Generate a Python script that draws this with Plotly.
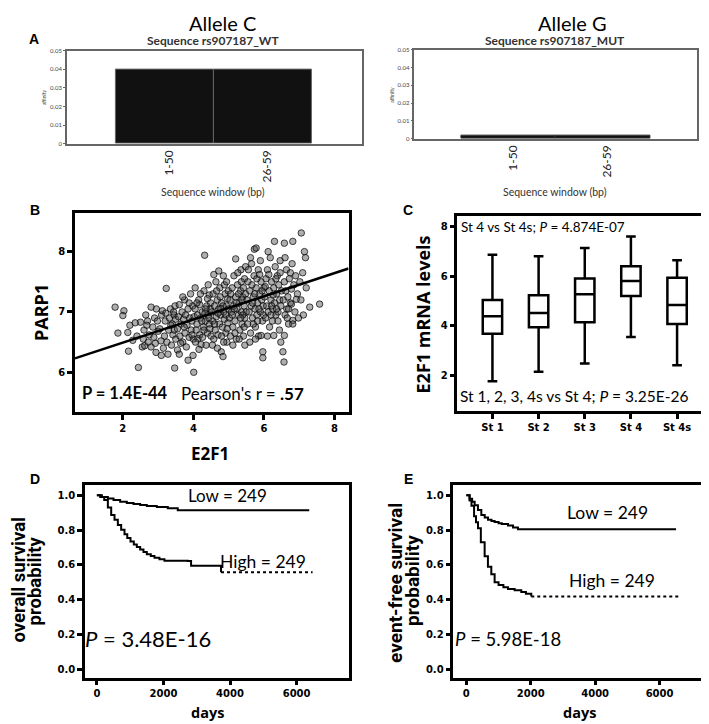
import plotly.graph_objects as go

W, H = 709, 724

# ---------------- DATA ----------------
# Panel A
window_labels = ["1-50", "26-59"]
affinity_wt = [0.04, 0.04]
affinity_mut = [0.0015, 0.0015]
affinity_ticks = [0, 0.01, 0.02, 0.03, 0.04, 0.05]

# Panel B (E2F1 vs PARP1)
e2f1_pts = [
 1.78,2.03,2.0,1.86,2.14,2.16,2.44,2.28,2.5,2.2,2.35,2.4,
 2.55,2.62,2.8,2.94,3.09,2.6,2.7,2.75,2.85,2.9,2.65,2.95,2.8,2.58,2.72,2.88,3.0,2.98,2.68,2.92,
 3.05,3.1,3.12,3.18,3.2,3.23,3.25,3.3,3.32,3.35,3.38,3.4,3.42,3.45,3.47,3.48,3.5,3.15,3.28,3.36,3.44,3.22,3.08,3.5,3.46,
 3.55,3.6,3.55,3.58,3.6,3.62,3.65,3.68,3.7,3.72,3.75,3.76,3.78,3.8,3.82,3.85,3.88,3.9,3.92,3.94,3.96,3.98,3.99,4.0,3.7,3.85,3.64,3.74,3.88,3.96,
 4.01,4.02,4.05,4.08,4.1,4.13,4.15,4.18,4.2,4.22,4.25,4.28,4.3,4.32,4.34,4.36,4.38,4.4,4.42,4.45,4.46,4.48,4.5,4.05,4.12,4.18,4.24,4.3,4.35,4.4,4.44,4.47,4.06,4.16,4.26,4.33,4.42,4.49,4.2,4.1,
 4.52,4.55,4.56,4.58,4.6,4.62,4.64,4.65,4.68,4.7,4.72,4.74,4.75,4.77,4.79,4.8,4.82,4.84,4.85,4.86,4.88,4.9,4.92,4.94,4.95,4.97,4.98,5.0,4.54,4.6,4.66,4.7,4.76,4.8,4.84,4.88,4.92,4.96,4.58,4.68,4.78,4.86,4.94,4.72,4.99,
 5.02,5.04,5.05,5.08,5.1,5.12,5.14,5.15,5.18,5.2,5.2,5.22,5.24,5.25,5.28,5.3,5.32,5.34,5.35,5.36,5.38,5.4,5.42,5.44,5.45,5.46,5.48,5.5,5.06,5.12,5.16,5.22,5.28,5.3,5.36,5.4,5.44,5.48,5.18,5.26,5.34,5.42,5.1,5.38,5.46,
 5.52,5.54,5.55,5.58,5.6,5.62,5.64,5.65,5.68,5.7,5.72,5.73,5.75,5.76,5.78,5.78,5.8,5.82,5.84,5.85,5.88,5.9,5.92,5.92,5.94,5.96,5.97,5.97,5.98,6.0,5.56,5.6,5.66,5.7,5.74,5.8,5.86,5.9,5.95,5.62,5.68,5.76,5.82,5.88,5.99,
 6.02,6.05,6.06,6.08,6.1,6.12,6.15,6.16,6.18,6.2,6.22,6.24,6.25,6.28,6.28,6.3,6.3,6.32,6.34,6.36,6.38,6.4,6.42,6.44,6.45,6.46,6.48,6.5,6.04,6.1,6.14,6.2,6.26,6.34,6.4,6.46,6.12,6.22,6.36,6.48,
 6.54,6.57,6.58,6.58,6.55,6.58,6.6,6.62,6.64,6.65,6.68,6.7,6.72,6.75,6.78,6.78,6.8,6.82,6.82,6.82,6.85,6.88,6.9,6.92,6.95,6.98,6.6,6.7,6.75,6.66,
 7.06,7.15,7.18,7.30,7.58,7.02,7.05,7.1,7.12,7.2]
parp1_pts = [
 7.08,7.02,6.94,6.65,6.66,6.35,6.08,6.53,6.83,6.78,6.82,6.6,
 6.42,6.44,6.42,6.33,6.28,6.7,6.85,6.62,6.75,6.9,6.95,7.05,7.08,6.55,6.5,6.58,6.68,6.85,6.78,6.48,
 6.72,6.95,7.02,6.6,6.85,7.39,6.5,6.7,6.9,7.05,6.45,6.8,6.62,6.95,6.07,7.1,6.55,6.4,6.3,6.78,7.0,6.98,6.52,6.88,6.7,
 6.37,6.3,6.72,6.92,7.12,6.6,6.8,7.0,6.5,6.88,7.2,6.65,6.95,6.42,6.78,7.05,6.58,6.9,7.3,6.7,6.85,7.1,6.28,6.55,7.25,6.2,6.48,6.75,7.15,6.62,
 6.0,6.92,7.05,6.7,6.8,6.56,7.2,6.62,6.9,6.46,7.0,6.75,7.35,7.94,6.85,6.45,7.1,6.65,6.95,7.28,6.8,7.05,6.6,7.4,6.95,7.12,6.85,6.7,7.05,7.22,6.9,6.72,6.5,6.38,6.58,6.98,7.45,7.15,7.3,7.15,
 7.0,6.85,7.3,6.55,7.1,6.7,7.5,6.92,7.2,6.62,7.05,6.8,7.4,6.95,6.34,7.15,6.75,6.26,7.6,7.0,6.88,7.3,6.65,7.1,6.5,7.22,6.82,7.05,6.45,6.8,7.35,6.98,7.25,6.6,7.1,7.45,6.95,6.72,7.62,6.4,7.05,6.5,7.5,7.68,7.35,
 6.9,7.2,6.6,7.0,7.4,6.75,7.1,7.6,6.85,7.88,7.25,6.55,7.05,7.45,6.95,7.15,6.7,7.35,7.7,7.0,6.8,7.25,6.6,7.1,7.55,6.9,7.3,7.0,7.3,6.45,7.05,7.15,7.3,6.55,7.5,6.95,6.75,7.75,6.65,7.65,6.9,7.4,6.95,7.2,6.45,
 7.2,6.8,7.5,7.0,7.35,6.65,7.1,7.8,6.9,7.25,7.6,8.04,7.05,6.75,8.06,7.4,6.95,7.15,7.7,6.6,7.3,7.0,6.61,7.5,7.2,6.85,6.34,6.24,7.1,7.4,7.7,6.5,7.45,6.8,7.3,7.55,7.05,7.85,7.35,7.9,7.15,6.55,6.85,7.62,6.95,
 7.25,6.9,7.55,7.1,7.7,7.0,7.35,6.75,7.9,7.2,7.5,6.85,7.05,6.61,7.4,8.17,7.15,7.75,6.95,7.3,7.6,7.0,7.45,6.7,7.2,7.85,7.1,7.35,7.42,6.6,7.62,6.95,7.28,7.55,6.85,7.65,8.0,7.1,7.05,6.5,
 6.34,6.17,6.61,8.14,7.2,7.5,6.95,7.35,7.7,7.05,7.25,6.8,7.55,7.15,7.38,7.13,7.8,8.17,6.86,6.8,7.45,7.0,7.6,7.21,7.3,6.9,7.9,7.05,7.65,6.9,
 8.31,8.0,7.9,7.08,7.13,7.5,7.2,7.65,6.95,7.4]
reg_slope = 0.192
reg_intercept = 6.107

# Panel C (E2F1 by stage), box statistics
stages = ["St 1", "St 2", "St 3", "St 4", "St 4s"]
st_low = [1.77, 2.15, 2.48, 3.55, 2.41]
st_q1 = [3.68, 3.95, 4.15, 5.21, 4.08]
st_med = [4.39, 4.52, 5.28, 5.81, 4.85]
st_q3 = [5.05, 5.24, 5.92, 6.41, 5.95]
st_high = [6.88, 6.81, 7.15, 7.61, 6.65]

# Panel D (overall survival)
os_low_days = [0, 150, 330, 500, 700, 900, 1100, 1300, 1500, 1800, 2130, 2430, 6380]
os_low_surv = [1.0, 0.99, 0.981, 0.972, 0.963, 0.955, 0.95, 0.944, 0.938, 0.932, 0.925, 0.914, 0.914]
os_high_days = [0, 100, 220, 330, 430, 530, 630, 730, 830, 913, 1010, 1110, 1200, 1300, 1400, 1500, 1620, 1730, 1880, 2030, 2730, 2830, 3730, 6480]
os_high_surv = [1.0, 0.99, 0.972, 0.93, 0.887, 0.859, 0.83, 0.802, 0.776, 0.755, 0.735, 0.717, 0.703, 0.689, 0.674, 0.661, 0.651, 0.642, 0.633, 0.625, 0.623, 0.595, 0.558, 0.558]
os_high_dot_from = 3730

# Panel E (event-free survival)
efs_low_days = [0, 100, 180, 258, 360, 465, 570, 672, 780, 878, 1000, 1100, 1292, 1450, 1602, 6512]
efs_low_surv = [1.0, 0.98, 0.962, 0.943, 0.915, 0.887, 0.872, 0.859, 0.852, 0.846, 0.84, 0.835, 0.827, 0.815, 0.805, 0.805]
efs_high_days = [0, 100, 160, 240, 300, 362, 450, 568, 670, 775, 878, 1000, 1150, 1292, 1500, 1706, 1850, 2016, 6667]
efs_high_surv = [1.0, 0.97, 0.94, 0.88, 0.845, 0.81, 0.73, 0.65, 0.59, 0.547, 0.501, 0.485, 0.472, 0.463, 0.455, 0.445, 0.435, 0.42, 0.42]
efs_high_dot_from = 2016

surv_ticks = [0.0, 0.2, 0.4, 0.6, 0.8, 1.0]
day_ticks = [0, 2000, 4000, 6000]

# ---------------- HELPERS ----------------
def fx(px):
    return px / W

def fy(py):
    return 1 - py / H

TXT = "Lato"
TICKF = dict(family="DejaVu Sans", size=10, color="black", weight="bold")

fig = go.Figure()

# Panel A bars
fig.add_trace(go.Bar(x=[0, 1], y=affinity_wt, width=1, marker=dict(color="#111", line=dict(color="#666", width=1)),
                     xaxis="x", yaxis="y", showlegend=False))
fig.add_trace(go.Bar(x=[0, 1], y=affinity_mut, width=1, marker=dict(color="#111", line=dict(color="#333", width=1)),
                     xaxis="x2", yaxis="y2", showlegend=False))

# Panel B scatter + regression
fig.add_trace(go.Scatter(x=e2f1_pts, y=parp1_pts, mode="markers",
                         marker=dict(size=6.5, color="rgba(75,75,75,0.45)", line=dict(color="rgba(0,0,0,0.7)", width=1)),
                         xaxis="x3", yaxis="y3", showlegend=False))
bx_rng = [0.64, 8.4]
fig.add_trace(go.Scatter(x=bx_rng, y=[reg_intercept + reg_slope * v for v in bx_rng], mode="lines",
                         line=dict(color="black", width=2.5), xaxis="x3", yaxis="y3", showlegend=False))

# Panel C boxes
fig.add_trace(go.Box(x=stages, q1=st_q1, median=st_med, q3=st_q3, lowerfence=st_low, upperfence=st_high,
                     width=0.42, whiskerwidth=0.5, fillcolor="white", line=dict(color="black", width=2.5),
                     xaxis="x4", yaxis="y4", showlegend=False, boxpoints=False))

# Panel D / E KM curves
def km_pair(days, surv, dot_from, xa, ya):
    k = days.index(dot_from)
    fig.add_trace(go.Scatter(x=days[:k + 1], y=surv[:k + 1], mode="lines",
                             line=dict(color="black", width=2, shape="hv"), xaxis=xa, yaxis=ya, showlegend=False))
    fig.add_trace(go.Scatter(x=days[k:], y=surv[k:], mode="lines",
                             line=dict(color="black", width=2, shape="hv", dash="dot"), xaxis=xa, yaxis=ya, showlegend=False))

fig.add_trace(go.Scatter(x=os_low_days, y=os_low_surv, mode="lines", line=dict(color="black", width=2, shape="hv"),
                         xaxis="x5", yaxis="y5", showlegend=False))
km_pair(os_high_days, os_high_surv, os_high_dot_from, "x5", "y5")
fig.add_trace(go.Scatter(x=efs_low_days, y=efs_low_surv, mode="lines", line=dict(color="black", width=2, shape="hv"),
                         xaxis="x6", yaxis="y6", showlegend=False))
km_pair(efs_high_days, efs_high_surv, efs_high_dot_from, "x6", "y6")

# ---------------- AXES ----------------
def box_axis(dom, anchor, rng, **kw):
    d = dict(domain=dom, anchor=anchor, range=rng, showline=True, mirror=True, linecolor="black", linewidth=2.5,
             showgrid=False, zeroline=False, ticks="outside", ticklen=5, tickwidth=2.5, tickcolor="black",
             tickfont=TICKF)
    d.update(kw)
    return d

a_axis = dict(showline=True, mirror=True, linecolor="#666", linewidth=1.5, showgrid=False, zeroline=False)
a_ticktext = ["0", "0.01", "0.02", "0.03", "0.04", "0.05"]

layout = dict(
    width=W, height=H, margin=dict(l=0, r=0, t=0, b=0), plot_bgcolor="white", paper_bgcolor="white",
    bargap=0,
    xaxis=dict(a_axis, domain=[fx(59), fx(354)], anchor="y", range=[-1, 2], tickvals=[0, 1], ticktext=window_labels,
               tickangle=-90, ticks="", tickfont=dict(family=TXT, size=12, color="#222"), ticklabelshift=4),
    yaxis=dict(a_axis, domain=[fy(133), fy(39)], anchor="x", range=[0, 0.05], tickvals=affinity_ticks,
               ticktext=a_ticktext, ticks="outside", ticklen=2, tickcolor="#666",
               tickfont=dict(family=TXT, size=6, color="#444")),
    xaxis2=dict(a_axis, domain=[fx(407), fx(690)], anchor="y2", range=[-1, 2], tickvals=[0, 1], ticktext=window_labels,
                tickangle=-90, ticks="", tickfont=dict(family=TXT, size=12, color="#222"), ticklabelshift=4),
    yaxis2=dict(a_axis, domain=[fy(128), fy(38)], anchor="x2", range=[0, 0.05], tickvals=affinity_ticks,
                ticktext=a_ticktext, ticks="outside", ticklen=2, tickcolor="#666",
                tickfont=dict(family=TXT, size=6, color="#444")),
    xaxis3=box_axis([fx(67), fx(341)], "y3", bx_rng, tickvals=[2, 4, 6, 8]),
    yaxis3=box_axis([fy(404), fy(203)], "x3", [5.34, 8.64], tickvals=[6, 7, 8]),
    xaxis4=box_axis([fx(450), fx(707)], "y4", [-0.76, 4.8], type="category"),
    yaxis4=box_axis([fy(403), fy(206)], "x4", [0.56, 8.44], tickvals=[2, 4, 6, 8]),
    xaxis5=box_axis([fx(77), fx(341)], "y5", [-360, 7560], tickvals=day_ticks, ticklen=4),
    yaxis5=box_axis([fy(673), fy(478)], "x5", [-0.0508, 1.0565], tickvals=surv_ticks, tickformat=".1f"),
    xaxis6=box_axis([fx(446), fx(699)], "y6", [-403, 7442], tickvals=day_ticks, ticklen=4),
    yaxis6=box_axis([fy(673), fy(478)], "x6", [-0.0508, 1.0565], tickvals=surv_ticks, tickformat=".1f"),
)
fig.update_layout(**layout)

# ---------------- TEXT ----------------
def ann(text, px, py, size, xanchor="center", bold=False, angle=0, family=TXT, color="black", yanchor="middle"):
    fig.add_annotation(text=text, x=fx(px), y=fy(py), xref="paper", yref="paper", showarrow=False,
                       xanchor=xanchor, yanchor=yanchor, textangle=angle, borderpad=0,
                       font=dict(family=family, size=size, color=color, weight="bold" if bold else "normal"))

PANEL = "Liberation Sans"
ann("A", 26, 27, 14, bold=True, family=PANEL)
ann("B", 27, 200, 14, bold=True, family=PANEL)
ann("C", 401, 200, 14, bold=True, family=PANEL)
ann("D", 27, 472, 14, bold=True, family=PANEL)
ann("E", 401, 472, 14, bold=True, family=PANEL)

ann("Allele C", 215, 11, 20)
ann("Sequence rs907187_WT", 205, 29, 12, bold=True, color="#333")
ann("Sequence window (bp)", 205, 182, 10.5, color="#333")
ann("affinity", 36, 86, 5, angle=-90, color="#444")
ann("Allele G", 565, 11, 20)
ann("Sequence rs907187_MUT", 548, 29, 12, bold=True, color="#333")
ann("Sequence window (bp)", 548, 182, 10.5, color="#333")
ann("affinity", 385, 83, 5, angle=-90, color="#444")

ann("PARP1", 33, 303, 18, bold=True, angle=-90, family="Open Sans")
ann("E2F1", 202, 446, 17, bold=True, family="Open Sans")
ann("<b>P = 1.4E-44</b>", 73, 385, 16.5, xanchor="left")
ann("Pearson's r = <b>.57</b>", 172, 385, 17, xanchor="left")

ann("E2F1 mRNA levels", 416, 305, 18, bold=True, angle=-90, family="Open Sans")
ann("St 4 vs St 4s; <i>P</i> = 4.874E-07", 453, 217, 13.5, xanchor="left")
ann("St 1, 2, 3, 4s vs St 4; <i>P</i> = 3.25E-26", 452, 388, 15.5, xanchor="left")

ann("overall survival", 11, 573, 18.5, bold=True, angle=-90, family="Roboto")
ann("probability", 27, 574, 18.5, bold=True, angle=-90, family="Roboto")
ann("Low = 249", 220, 488, 17)
ann("High = 249", 255, 555, 17.5)
ann("<i>P</i> = 3.48E-16", 76, 633, 22, xanchor="left")
ann("days", 200, 718, 14.5, bold=True, family="Open Sans", yanchor="bottom")

ann("event-free survival", 388, 576, 19, bold=True, angle=-90, family="Roboto")
ann("probability", 405, 574, 19, bold=True, angle=-90, family="Roboto")
ann("Low = 249", 600, 505, 17.5)
ann("High = 249", 605, 574, 17.5)
ann("<i>P</i> = 5.98E-18", 447, 633, 18.5, xanchor="left")
ann("days", 572, 718, 14.5, bold=True, family="Open Sans", yanchor="bottom")

fig.write_html("out.html")
